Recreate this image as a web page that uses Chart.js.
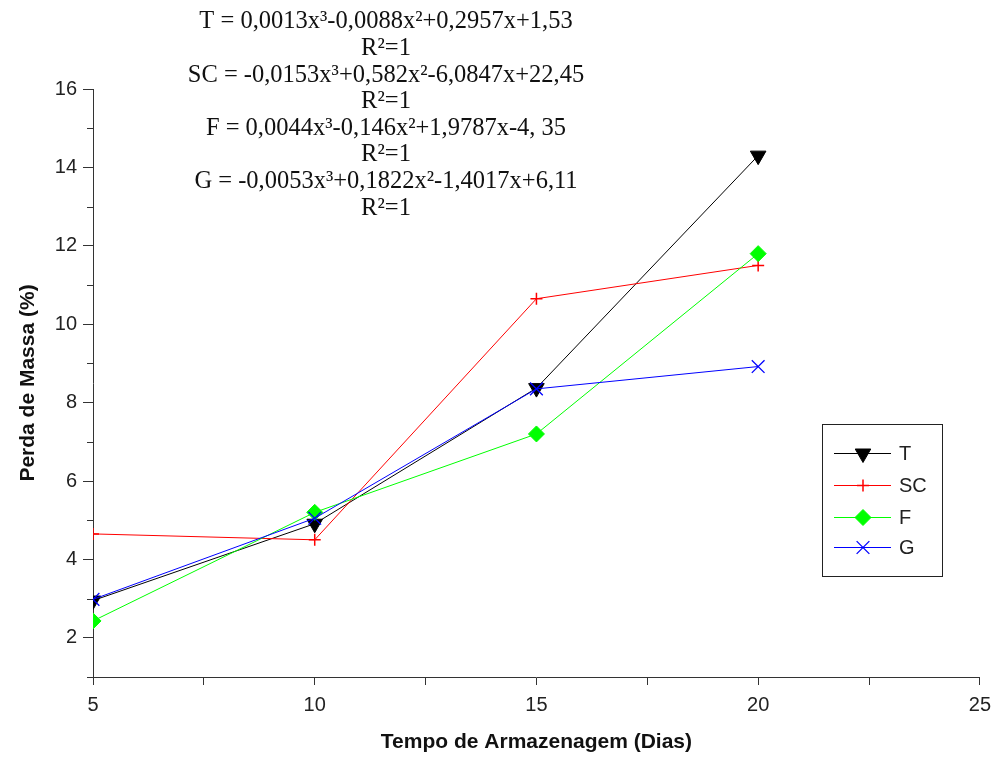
<!DOCTYPE html>
<html lang="pt">
<head>
<meta charset="UTF-8"/>
<title>Perda de Massa</title>
<script src="https://cdn.jsdelivr.net/npm/chart.js@4.4.1/dist/chart.umd.min.js"></script>
<style>
  body { margin: 0; background: #fff; }
  #wrap { width: 999px; height: 760px; }
</style>
</head>
<body>
<div id="wrap"><canvas id="chart" width="999" height="760"></canvas></div>
<script>
// storage time (days) and mass loss (%) per treatment
const dias = [5, 10, 15, 20];
const perdaT = [2.95, 4.91, 8.37, 14.3];
const perdaSC = [4.65, 4.5, 10.65, 11.5];
const perdaF = [2.43, 5.2, 7.2, 11.8];
const perdaG = [2.98, 5.05, 8.35, 8.92];

const seriesNames = ['T', 'SC', 'F', 'G'];

// fitted polynomials written above the plot
const equacoes = [
  'T = 0,0013x³-0,0088x²+0,2957x+1,53',
  'R²=1',
  'SC = -0,0153x³+0,582x²-6,0847x+22,45',
  'R²=1',
  'F = 0,0044x³-0,146x²+1,9787x-4, 35',
  'R²=1',
  'G = -0,0053x³+0,1822x²-1,4017x+6,11',
  'R²=1'
];

const estilos = {
  T:  { color: '#000000', pointStyle: 'triangle', radius: 9, rotation: 180, borderWidth: 1 },
  SC: { color: '#ff0000', pointStyle: 'cross', radius: 6, rotation: 0, borderWidth: 1.5 },
  F:  { color: '#00ff00', pointStyle: 'rectRot', radius: 8, rotation: 0, borderWidth: 1 },
  G:  { color: '#0000ff', pointStyle: 'crossRot', radius: 9, rotation: 0, borderWidth: 1.3 }
};

function pares(ys) {
  return dias.map((d, i) => ({ x: d, y: ys[i] }));
}

function serie(nome, ys, ordem) {
  const s = estilos[nome];
  return {
    label: nome,
    data: pares(ys),
    borderColor: s.color,
    backgroundColor: s.color,
    borderWidth: 1,
    tension: 0,
    pointStyle: s.pointStyle,
    pointRadius: s.radius,
    pointRotation: s.rotation,
    pointBorderWidth: s.borderWidth,
    pointBackgroundColor: s.color,
    pointBorderColor: s.color,
    order: ordem
  };
}

const equationsPlugin = {
  id: 'equations',
  afterDraw(chart) {
    const ctx = chart.ctx;
    ctx.save();
    ctx.fillStyle = '#111';
    ctx.font = '24.5px "Liberation Serif", "Times New Roman", serif';
    ctx.textAlign = 'center';
    ctx.textBaseline = 'middle';
    equacoes.forEach((linha, i) => {
      ctx.fillText(linha, 386, 22 + i * 26.6);
    });
    ctx.restore();
  }
};

// short unlabeled ticks on the y axis at the odd values
const minorTicksPlugin = {
  id: 'minorTicks',
  afterDraw(chart) {
    const y = chart.scales.y;
    const ctx = chart.ctx;
    ctx.save();
    ctx.strokeStyle = '#333';
    ctx.lineWidth = 1;
    for (let v = 1; v <= 15; v += 2) {
      const py = Math.round(y.getPixelForValue(v)) + 0.5;
      ctx.beginPath();
      ctx.moveTo(y.right - 6, py);
      ctx.lineTo(y.right, py);
      ctx.stroke();
    }
    ctx.restore();
  }
};

const boxLegendPlugin = {
  id: 'boxLegend',
  afterDraw(chart) {
    const ctx = chart.ctx;
    const left = 822, top = 424, w = 120, h = 152;
    ctx.save();
    ctx.strokeStyle = '#222';
    ctx.lineWidth = 1;
    ctx.strokeRect(left + 0.5, top + 0.5, w, h);
    const rows = [453, 485, 517, 547];
    seriesNames.forEach((nome, i) => {
      const s = estilos[nome];
      const yy = rows[i] + 0.5;
      ctx.strokeStyle = s.color;
      ctx.fillStyle = s.color;
      ctx.lineWidth = 1;
      ctx.beginPath();
      ctx.moveTo(834, yy);
      ctx.lineTo(891, yy);
      ctx.stroke();
      ctx.lineWidth = s.borderWidth;
      Chart.helpers.drawPoint(ctx, {
        pointStyle: s.pointStyle,
        radius: s.radius,
        rotation: s.rotation,
        borderWidth: s.borderWidth
      }, 863, yy);
      ctx.fillStyle = '#222';
      ctx.font = '20px "Liberation Sans", Arial, sans-serif';
      ctx.textAlign = 'left';
      ctx.textBaseline = 'middle';
      ctx.fillText(nome, 899, rows[i] + 1);
    });
    ctx.restore();
  }
};

const tickFont = { family: '"Liberation Sans", Arial, sans-serif', size: 20 };
const titleFont = { family: '"Liberation Sans", Arial, sans-serif', size: 21, weight: 'bold' };

new Chart(document.getElementById('chart'), {
  type: 'line',
  data: {
    datasets: [
      serie('T', perdaT, 3),
      serie('SC', perdaSC, 2),
      serie('F', perdaF, 1),
      serie('G', perdaG, 0)
    ]
  },
  options: {
    responsive: false,
    animation: false,
    layout: { padding: { top: 89, right: 16, left: 12, bottom: 1 } },
    plugins: {
      legend: { display: false },
      tooltip: { enabled: false }
    },
    scales: {
      x: {
        type: 'linear',
        min: 5,
        max: 25,
        afterFit: s => { s.height = 82; },
        grid: { drawOnChartArea: false, tickLength: 8, tickColor: '#333' },
        border: { color: '#333', width: 1 },
        ticks: {
          stepSize: 2.5,
          autoSkip: false,
          maxRotation: 0,
          padding: 8,
          color: '#222',
          font: tickFont,
          callback: v => (v % 5 === 0 ? v : '')
        },
        title: { display: true, text: 'Tempo de Armazenagem (Dias)', color: '#111', font: titleFont }
      },
      y: {
        min: 1,
        max: 16,
        afterFit: s => { s.width = 81; },
        grid: {
          drawOnChartArea: false,
          tickLength: 10,
          tickColor: c => (c.tick && c.tick.value % 2 === 0 ? '#333' : 'rgba(0,0,0,0)')
        },
        border: { color: '#333', width: 1 },
        ticks: {
          stepSize: 1,
          autoSkip: false,
          padding: 6,
          color: '#222',
          font: tickFont,
          callback: v => (v % 2 === 0 ? v : '')
        },
        title: { display: true, text: 'Perda de Massa (%)', color: '#111', font: titleFont }
      }
    }
  },
  plugins: [equationsPlugin, minorTicksPlugin, boxLegendPlugin]
});
</script>
</body>
</html>
